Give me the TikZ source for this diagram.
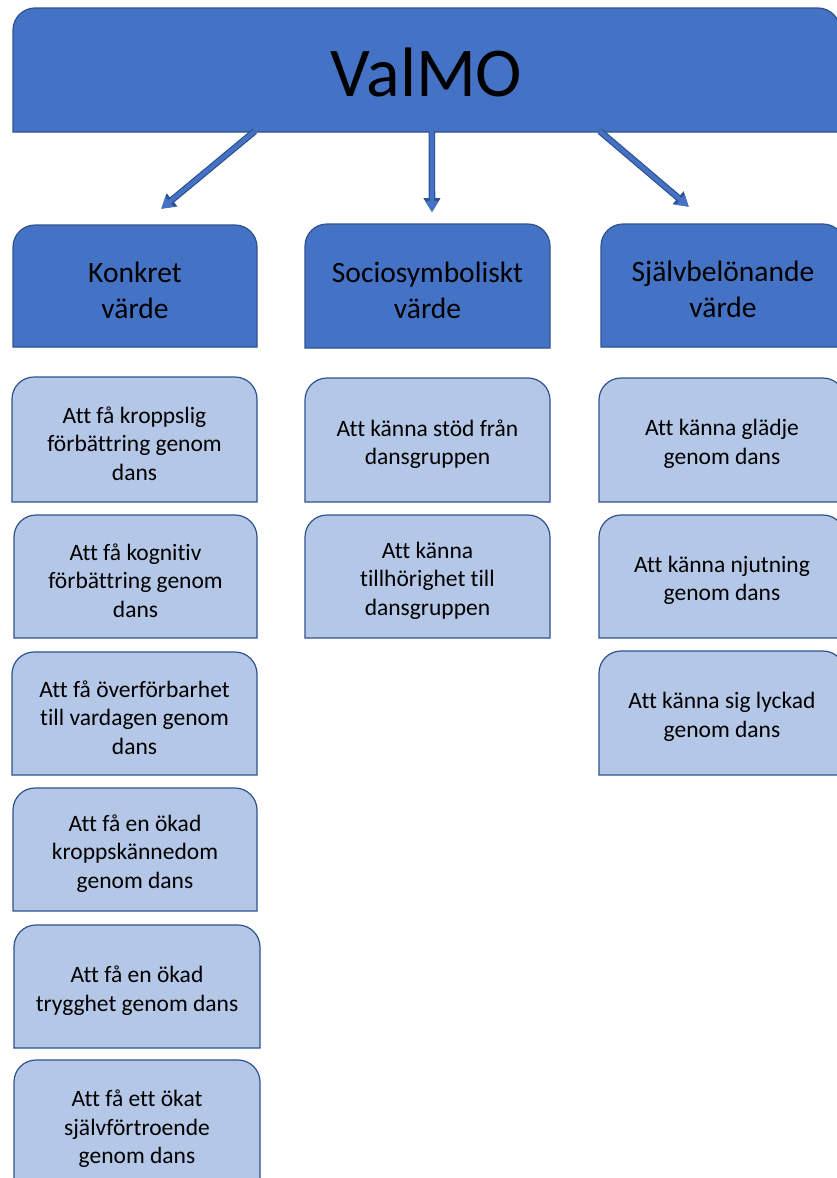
\documentclass[tikz,border=0pt]{standalone}
\usepackage{fontspec}
\setmainfont[Ligatures=NoCommon]{Carlito}
\usetikzlibrary{arrows.meta,calc}
\definecolor{dblue}{HTML}{4472C4}
\definecolor{lblue}{HTML}{B4C7E7}
\definecolor{bord}{HTML}{2F528F}
\tikzset{
  topbox/.style={fill=dblue,draw=bord,line width=1.2},
  topbox text/.style={font=\fontsize{70}{80}\selectfont,text=black,yshift=-2},
  catbox/.style={fill=dblue,draw=bord,line width=1.2},
  catbox text/.style={font=\fontsize{29.5}{36}\selectfont,text=black,align=center,yshift=-4},
  itembox/.style={fill=lblue,draw=bord,line width=1.2},
  itembox text/.style={font=\fontsize{23.5}{28.5}\selectfont,text=black,align=center,yshift=-4},
  barrow/.style={draw=dblue,line width=4.2,shorten >=1.6,
    -{Triangle[length=11,width=12.5,fill=dblue]},
    preaction={draw=bord,line width=6.6,-{Triangle[length=14,width=16,fill=bord]}}},
}
\newcommand\tabbox[7]{%
  \path[#2] (#3,#6) [rounded corners=22] -- (#3,#4) -- (#5,#4) [sharp corners] -- (#5,#6) -- cycle;
  \node[#2 text,inner sep=0pt,minimum width={#5-#3},minimum height={#6-#4}] (#1) at ({(#3+#5)/2},{(#4+#6)/2}) {#7};
}
\begin{document}
\begin{tikzpicture}[x=1pt,y=-1pt]
\useasboundingbox (0,0) rectangle (837,1178);
\clip (0,0) rectangle (837,1178);
\tabbox{top}{topbox}{13}{8}{840}{132}{ValMO}
% categories
\tabbox{konk}{catbox}{13}{225}{257}{347}{Konkret\\värde}
\tabbox{socio}{catbox}{305}{224}{550}{348}{Sociosymboliskt\\värde}
\tabbox{sjalv}{catbox}{601}{224}{845}{347}{Självbelönande\\värde}
% arrows
\draw[barrow] ($(top.south west)+(242,-3)$) -- ($(konk.north)+(25,-19)$);
\draw[barrow] ($(top.south west)+(419,-3)$) -- ($(socio.north)+(4.5,-14)$);
\draw[barrow] ($(top.south west)+(587,-3)$) -- ($(sjalv.north)+(-33,-20)$);
% column 1
\tabbox{k1}{itembox}{12}{377}{257}{502}{Att få kroppslig\\förbättring genom\\dans}
\tabbox{k2}{itembox}{14}{515}{257}{638}{Att få kognitiv\\förbättring genom\\dans}
\tabbox{k3}{itembox}{12}{652}{257}{775}{Att få överförbarhet\\till vardagen genom\\dans}
\tabbox{k4}{itembox}{13}{788}{257}{911}{Att få en ökad\\kroppskännedom\\genom dans}
\tabbox{k5}{itembox}{14}{925}{260}{1048}{Att få en ökad\\trygghet genom dans}
\tabbox{k6}{itembox}{14}{1060}{260}{1190}{Att få ett ökat\\självförtroende\\genom dans}
% column 2
\tabbox{s1}{itembox}{305}{378}{550}{502}{Att känna stöd från\\dansgruppen}
\tabbox{s2}{itembox}{305}{515}{550}{638}{Att känna\\tillhörighet till\\dansgruppen}
% column 3
\tabbox{j1}{itembox}{599}{378}{845}{502}{Att känna glädje\\genom dans}
\tabbox{j2}{itembox}{599}{515}{845}{638}{Att känna njutning\\genom dans}
\tabbox{j3}{itembox}{599}{651}{845}{775}{Att känna sig lyckad\\genom dans}
\end{tikzpicture}
\end{document}
